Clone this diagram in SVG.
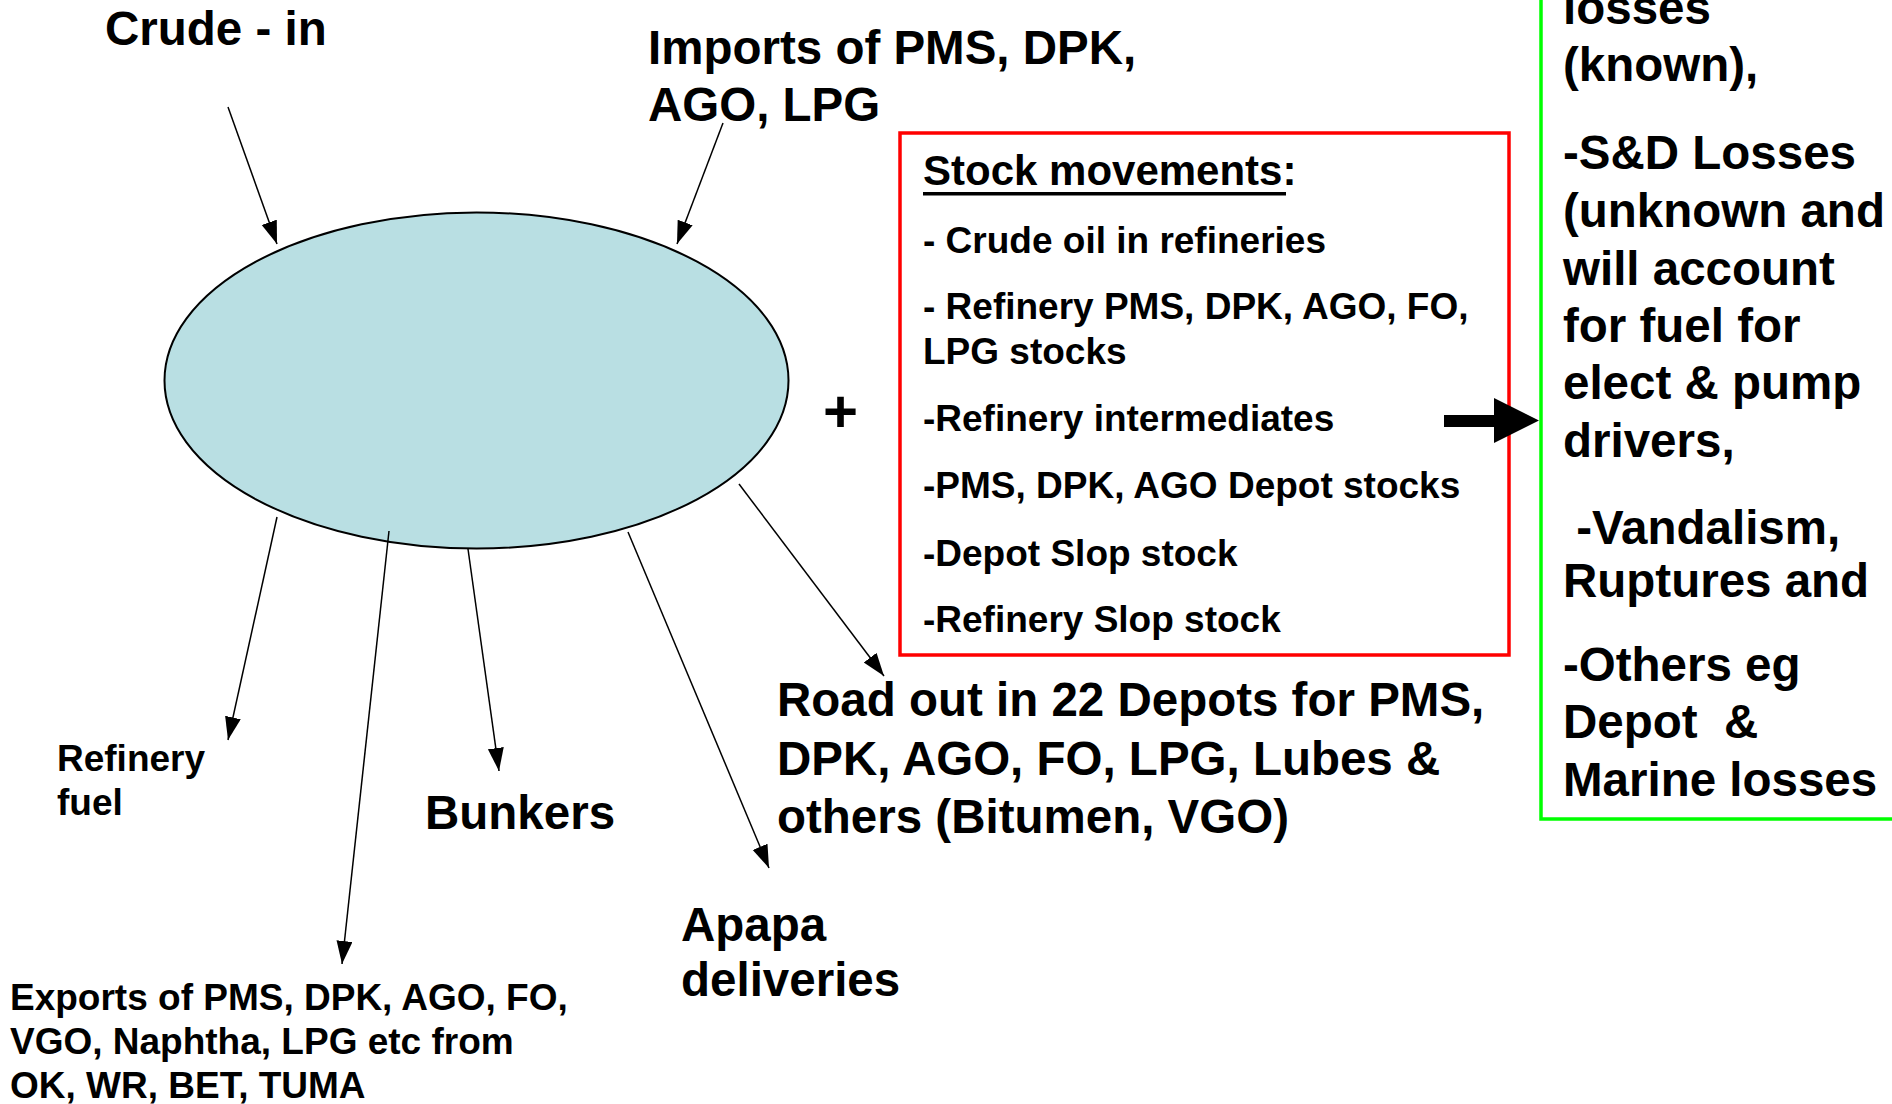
<svg xmlns="http://www.w3.org/2000/svg" width="1892" height="1104" viewBox="0 0 1892 1104">
<defs>
<style>
text{font-family:"Liberation Sans",Arial,sans-serif;font-weight:bold;fill:#000}
.big{font-size:47.5px}
.mid{font-size:42px}
.sm{font-size:37px}
.conn{stroke:#000;stroke-width:1.5;fill:none}
</style>
<marker id="ah" markerUnits="userSpaceOnUse" markerWidth="24" markerHeight="18" refX="23" refY="8" orient="auto">
<path d="M0,0 L23,8 L0,16 z" fill="#000"/>
</marker>
</defs>
<rect width="1892" height="1104" fill="#fff"/>

<g id="pool">
<ellipse cx="476.5" cy="380.5" rx="312" ry="168" fill="#b9dfe3" stroke="#000" stroke-width="2"/>
</g>

<g id="crude-in"><text class="big" x="105" y="45">Crude - in</text></g>

<g id="imports"><text class="big" x="648" y="64">Imports of PMS, DPK,</text><text class="big" x="648" y="121">AGO, LPG</text></g>

<g id="plus"><text x="823" y="432" style="font-size:60px">+</text></g>

<g id="stock">
<rect x="900" y="133" width="609" height="522" fill="none" stroke="#ff0000" stroke-width="3.5"/>
<text class="mid" x="923" y="185">Stock movements:</text>
<rect x="923" y="192" width="363" height="3.5" fill="#000"/>
<text class="sm" x="923" y="253">- Crude oil in refineries</text>
<text class="sm" x="923" y="319">- Refinery PMS, DPK, AGO, FO,</text>
<text class="sm" x="923" y="364">LPG stocks</text>
<text class="sm" x="923" y="431">-Refinery intermediates</text>
<text class="sm" x="923" y="498">-PMS, DPK, AGO Depot stocks</text>
<text class="sm" x="923" y="566">-Depot Slop stock</text>
<text class="sm" x="923" y="632">-Refinery Slop stock</text>
</g>

<g id="losses">
<rect x="1541" y="-20" width="400" height="839" fill="none" stroke="#00ff00" stroke-width="3.5"/>
<text class="big" x="1563" y="24">losses</text>
<text class="big" x="1563" y="81">(known),</text>
<text class="big" x="1563" y="169">-S&amp;D Losses</text>
<text class="big" x="1563" y="227">(unknown and</text>
<text class="big" x="1563" y="285">will account</text>
<text class="big" x="1563" y="342">for fuel for</text>
<text class="big" x="1563" y="399">elect &amp; pump</text>
<text class="big" x="1563" y="457">drivers,</text>
<text class="big" x="1563" y="544" xml:space="preserve"> -Vandalism,</text>
<text class="big" x="1563" y="597">Ruptures and</text>
<text class="big" x="1563" y="681">-Others eg</text>
<text class="big" x="1563" y="738" xml:space="preserve">Depot  &amp;</text>
<text class="big" x="1563" y="796">Marine losses</text>
</g>

<g id="refinery-fuel"><text class="sm" x="57" y="771">Refinery</text><text class="sm" x="57" y="815">fuel</text></g>

<g id="bunkers"><text class="big" x="425" y="829">Bunkers</text></g>

<g id="exports">
<text class="sm" x="10" y="1010">Exports of PMS, DPK, AGO, FO,</text>
<text class="sm" x="10" y="1054">VGO, Naphtha, LPG etc from</text>
<text class="sm" x="10" y="1098">OK, WR, BET, TUMA</text>
</g>

<g id="apapa"><text class="big" x="681" y="941">Apapa</text><text class="big" x="681" y="996">deliveries</text></g>

<g id="road-out">
<text class="big" x="777" y="716">Road out in 22 Depots for PMS,</text>
<text class="big" x="777" y="775">DPK, AGO, FO, LPG, Lubes &amp;</text>
<text class="big" x="777" y="833">others (Bitumen, VGO)</text>
</g>

<g id="connectors">
<line class="conn" x1="228" y1="107" x2="277" y2="244" marker-end="url(#ah)"/>
<line class="conn" x1="723" y1="123" x2="677" y2="244" marker-end="url(#ah)"/>
<line class="conn" x1="277" y1="517" x2="228" y2="740" marker-end="url(#ah)"/>
<line class="conn" x1="389" y1="531" x2="342" y2="964" marker-end="url(#ah)"/>
<line class="conn" x1="468" y1="549" x2="499" y2="771" marker-end="url(#ah)"/>
<line class="conn" x1="628" y1="532" x2="769" y2="868" marker-end="url(#ah)"/>
<line class="conn" x1="739" y1="484" x2="884" y2="676" marker-end="url(#ah)"/>
<path d="M1444,415 L1494,415 L1494,398 L1539,420.5 L1494,443 L1494,427 L1444,427 z" fill="#000"/>
</g>
</svg>
